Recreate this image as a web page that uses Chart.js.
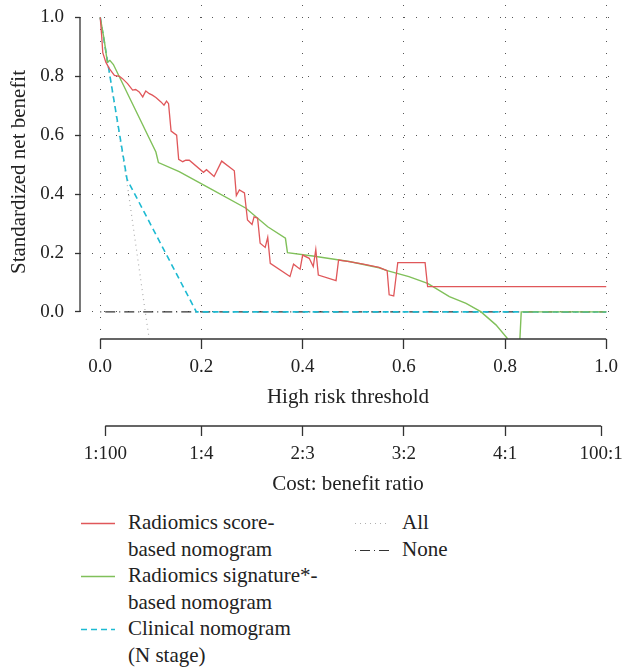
<!DOCTYPE html>
<html>
<head>
  <title>Decision curve analysis</title>
  <style>
    body {
      margin: 0;
      background: #fff;
      font-family: "Liberation Serif", "Times New Roman", serif;
    }
    #wrap { position: relative; width: 624px; height: 667px; }
    #box { position: absolute; left: 0; top: 0; width: 624px; height: 500px; }
    .item {
      position: absolute;
      display: flex;
      font-size: 21px;
      line-height: 26.5px;
      color: #222;
    }
    .item svg { flex: none; margin-right: 13px; }
  </style>
</head>
<body>
  <div id="wrap">
    <div id="box"><canvas id="chart"></canvas></div>
    <div id="legend"></div>
  </div>

  <script src="https://cdn.jsdelivr.net/npm/chart.js"></script>
  <script>
    // values
    const scoreX = [0, 0.003, 0.005, 0.011, 0.018, 0.028, 0.038, 0.044, 0.054, 0.064, 0.07, 0.077, 0.084, 0.09, 0.097,
      0.103, 0.11, 0.12, 0.126, 0.131, 0.135, 0.14, 0.151, 0.155, 0.163, 0.169, 0.176, 0.204, 0.21, 0.225, 0.24,
      0.265, 0.269, 0.275, 0.285, 0.291, 0.3, 0.304, 0.311, 0.316, 0.326, 0.331, 0.336, 0.375, 0.382, 0.395, 0.4,
      0.413, 0.421, 0.426, 0.431, 0.466, 0.471, 0.492, 0.52, 0.551, 0.567, 0.571, 0.58, 0.588, 0.642, 0.647, 1.0];
    const scoreY = [1.0, 0.933, 0.88, 0.848, 0.826, 0.803, 0.8, 0.792, 0.775, 0.753, 0.755, 0.747, 0.73, 0.75, 0.741,
      0.736, 0.728, 0.713, 0.702, 0.716, 0.707, 0.614, 0.6, 0.518, 0.51, 0.515, 0.515, 0.474, 0.483, 0.46, 0.512,
      0.479, 0.395, 0.414, 0.404, 0.312, 0.297, 0.323, 0.318, 0.233, 0.219, 0.253, 0.165, 0.12, 0.162, 0.145, 0.193,
      0.182, 0.154, 0.212, 0.125, 0.106, 0.176, 0.171, 0.162, 0.151, 0.14, 0.058, 0.054, 0.167, 0.167, 0.086, 0.086];

    const signatureX = [0, 0.008, 0.014, 0.019, 0.026, 0.11, 0.115, 0.156, 0.222, 0.288, 0.331, 0.366, 0.37, 0.42,
      0.492, 0.551, 0.567, 0.61, 0.647, 0.69, 0.723, 0.752, 0.782, 0.804, 0.815, 0.832, 1.0];
    const signatureY = [1.0, 0.922, 0.848, 0.854, 0.84, 0.543, 0.507, 0.476, 0.414, 0.352, 0.289, 0.25, 0.201, 0.19,
      0.171, 0.15, 0.14, 0.12, 0.097, 0.052, 0.029, 0.001, -0.044, -0.089, -0.6, 0.0, 0.0];

    const clinicalX = [0, 0.053, 0.19, 1.0];
    const clinicalY = [1.0, 0.45, 0.0, 0.0];

    const allX = [0, 0.054, 0.089, 0.1];
    const allY = [1.0, 0.425, 0.0, -0.13];

    const noneX = [0, 1.0];
    const noneY = [0, 0];

    const riskTicks = [0, 0.2, 0.4, 0.6, 0.8, 1.0];
    const benefitTicks = [0, 0.2, 0.4, 0.6, 0.8, 1.0];
    const costTicks = [0.01, 0.2, 0.4, 0.6, 0.8, 0.99];
    const costLabels = ['1:100', '1:4', '2:3', '3:2', '4:1', '100:1'];

    const seriesNames = [
      ['Radiomics score-', 'based nomogram'],
      ['Radiomics signature*-', 'based nomogram'],
      ['Clinical nomogram', '(N stage)'],
      ['All'],
      ['None']
    ];

    const serif = '"Liberation Serif", "Times New Roman", serif';
    const ink = '#222';

    function pts(xs, ys) {
      return xs.map((x, i) => ({ x: x, y: ys[i] }));
    }

    const styles = [
      { color: '#E0575A', width: 1.3, dash: [] },
      { color: '#80C05A', width: 1.4, dash: [] },
      { color: '#1DBAD2', width: 1.6, dash: [6, 4] },
      { color: '#AFAFAF', width: 1.2, dash: [1, 4] },
      { color: '#333333', width: 1.2, dash: [1, 4, 10, 4] }
    ];
    const series = [pts(scoreX, scoreY), pts(signatureX, signatureY), pts(clinicalX, clinicalY),
      pts(allX, allY), pts(noneX, noneY)];

    // R style axis lines that only run over the tick range
    const axisLines = {
      id: 'axisLines',
      afterDraw(chart) {
        const { ctx, chartArea, scales } = chart;
        ctx.save();
        ctx.strokeStyle = '#333';
        ctx.lineWidth = 1.3;
        ctx.beginPath();
        ctx.moveTo(chartArea.left, scales.y.getPixelForValue(benefitTicks[0]));
        ctx.lineTo(chartArea.left, scales.y.getPixelForValue(benefitTicks[benefitTicks.length - 1]));
        ctx.moveTo(scales.x.getPixelForValue(riskTicks[0]), scales.x.top);
        ctx.lineTo(scales.x.getPixelForValue(riskTicks[riskTicks.length - 1]), scales.x.top);
        ctx.moveTo(scales.x2.getPixelForValue(costTicks[0]), scales.x2.top);
        ctx.lineTo(scales.x2.getPixelForValue(costTicks[costTicks.length - 1]), scales.x2.top);
        ctx.stroke();
        ctx.restore();
      }
    };

    const xMin = -0.04, xMax = 1.0193;

    new Chart(document.getElementById('chart'), {
      type: 'scatter',
      data: {
        datasets: series.map((d, i) => ({
          label: seriesNames[i].join(' '),
          data: d,
          showLine: true,
          borderColor: styles[i].color,
          borderWidth: styles[i].width,
          borderDash: styles[i].dash,
          pointRadius: 0,
          tension: 0,
          order: i
        }))
      },
      options: {
        responsive: true,
        maintainAspectRatio: false,
        animation: false,
        layout: { padding: { top: 5, right: 8, bottom: 0, left: 0 } },
        plugins: { legend: { display: false }, tooltip: { enabled: false } },
        scales: {
          x: {
            type: 'linear',
            position: 'bottom',
            weight: 0,
            min: xMin,
            max: xMax,
            afterBuildTicks: s => { s.ticks = riskTicks.map(v => ({ value: v })); },
            afterFit: s => { s.height = 87; s.paddingLeft = 0; s.paddingRight = 0; },
            grid: { color: '#555', lineWidth: 1, tickLength: 10, tickColor: '#333', tickWidth: 1.3, tickBorderDash: [] },
            border: { display: false, dash: [1, 11] },
            ticks: { padding: 7, color: ink, autoSkip: false, maxRotation: 0, font: { family: serif, size: 19 },
              callback: v => v.toFixed(1) },
            title: { display: true, text: 'High risk threshold', color: ink, font: { family: serif, size: 21 },
              padding: { top: 0, bottom: 16 } }
          },
          x2: {
            type: 'linear',
            position: 'bottom',
            weight: 1,
            min: xMin,
            max: xMax,
            afterBuildTicks: s => { s.ticks = costTicks.map(v => ({ value: v })); },
            afterFit: s => { s.height = 74; s.paddingLeft = 0; s.paddingRight = 0; },
            grid: { drawOnChartArea: false, tickLength: 10, tickColor: '#333', tickWidth: 1.3 },
            border: { display: false },
            ticks: { padding: 7, color: ink, autoSkip: false, maxRotation: 0, font: { family: serif, size: 19 },
              callback: (v, i) => costLabels[i] },
            title: { display: true, text: 'Cost: benefit ratio', color: ink, font: { family: serif, size: 21 },
              padding: { top: 0, bottom: 3 } }
          },
          y: {
            min: -0.092,
            max: 1.0421,
            afterBuildTicks: s => { s.ticks = benefitTicks.map(v => ({ value: v })); },
            afterFit: s => { s.width = 80; s.paddingTop = 0; s.paddingBottom = 0; },
            grid: { color: '#555', lineWidth: 1, tickLength: 5, tickColor: '#333', tickWidth: 1.3, tickBorderDash: [] },
            border: { display: false, dash: [1, 11] },
            ticks: { padding: 11, color: ink, font: { family: serif, size: 19 }, callback: v => v.toFixed(1) },
            title: { display: true, text: 'Standardized net benefit', color: ink, font: { family: serif, size: 21 },
              padding: { top: 7, bottom: 0 } }
          }
        }
      },
      plugins: [axisLines]
    });

    // legend below the plot
    const slots = [
      { left: 81, top: 509, w: 34, gap: 13 },
      { left: 81, top: 562, w: 34, gap: 13 },
      { left: 81, top: 615, w: 34, gap: 13 },
      { left: 355, top: 509, w: 35, gap: 12 },
      { left: 355, top: 535.5, w: 35, gap: 12 }
    ];
    const legend = document.getElementById('legend');
    seriesNames.forEach((lines, i) => {
      const s = slots[i];
      const st = styles[i];
      const item = document.createElement('div');
      item.className = 'item';
      item.style.left = s.left + 'px';
      item.style.top = s.top + 'px';
      const dash = st.dash.length ? ` stroke-dasharray="${st.dash.join(' ')}"` : '';
      item.innerHTML =
        `<svg width="${s.w}" height="26.5" style="margin-right:${s.gap}px">` +
        `<line x1="0" y1="14.5" x2="${s.w}" y2="14.5" stroke="${st.color}" stroke-width="${st.width}"${dash}/></svg>` +
        `<span>${lines.join('<br>')}</span>`;
      legend.appendChild(item);
    });
  </script>
</body>
</html>
